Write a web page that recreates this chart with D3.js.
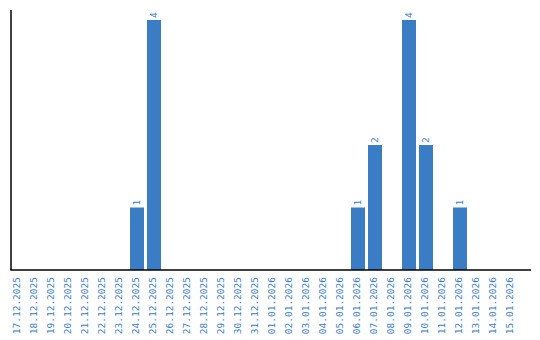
<!DOCTYPE html>
<html>
<head>
<meta charset="utf-8">
<script src="https://cdn.jsdelivr.net/npm/d3@7"></script>
<style>
html,body{margin:0;padding:0;background:#fff;}
svg{display:block;}
text{font-family:"DejaVu Sans Mono","Liberation Mono",monospace;}
</style>
</head>
<body>
<svg id="chart" width="540" height="340"></svg>
<script>
const categories = ["17.12.2025","18.12.2025","19.12.2025","20.12.2025","21.12.2025","22.12.2025","23.12.2025","24.12.2025","25.12.2025","26.12.2025","27.12.2025","28.12.2025","29.12.2025","30.12.2025","31.12.2025","01.01.2026","02.01.2026","03.01.2026","04.01.2026","05.01.2026","06.01.2026","07.01.2026","08.01.2026","09.01.2026","10.01.2026","11.01.2026","12.01.2026","13.01.2026","14.01.2026","15.01.2026"];
const values = [0,0,0,0,0,0,0,1,4,0,0,0,0,0,0,0,0,0,0,0,1,2,0,4,2,0,1,0,0,0];

const color = "#3b7dc4";
const font = "DejaVu Sans Mono, Liberation Mono, monospace";
const svg = d3.select("#chart");
const x0 = 11, x1 = 531, yBase = 270, yTop = 10;

const x = d3.scaleBand().domain(categories).range([9.5, 519.5]).paddingInner(3/17).paddingOuter(3/34);
const y = d3.scaleLinear().domain([0, d3.max(values) * 1.04]).range([yBase, yTop]);

const data = categories.map((c, i) => ({c, v: values[i]}));

svg.append("g").selectAll("rect").data(data.filter(d => d.v > 0)).join("rect")
  .attr("x", d => x(d.c))
  .attr("y", d => y(d.v))
  .attr("width", x.bandwidth())
  .attr("height", d => y(0) - y(d.v))
  .attr("fill", color);

svg.append("g").selectAll("text").data(data.filter(d => d.v > 0)).join("text")
  .attr("transform", d => `translate(${x(d.c) + x.bandwidth()/2},${y(d.v) - 2}) rotate(-90)`)
  .attr("dy", "0.3em")
  .attr("text-anchor", "start")
  .attr("font-family", font)
  .attr("font-size", 9.5)
  .attr("fill", color)
  .text(d => d.v);

// axes
const xAxis = d3.axisBottom(x).tickSize(0).tickPadding(0);
const gx = svg.append("g").attr("transform", `translate(0,${yBase})`).call(xAxis);
gx.select(".domain").remove();
gx.selectAll("text")
  .attr("font-family", font)
  .attr("font-size", 9.5)
  .attr("fill", color)
  .attr("text-anchor", "end")
  .attr("transform", "translate(0,7) rotate(-90)")
  .attr("x", 0).attr("y", 0).attr("dy", "0.22em");

svg.append("line").attr("x1", x0).attr("x2", x0).attr("y1", yTop).attr("y2", yBase)
  .attr("stroke", "#000").attr("stroke-width", 1.5);
svg.append("line").attr("x1", x0 - 0.75).attr("x2", x1).attr("y1", yBase).attr("y2", yBase)
  .attr("stroke", "#000").attr("stroke-width", 1.5);
</script>
</body>
</html>
